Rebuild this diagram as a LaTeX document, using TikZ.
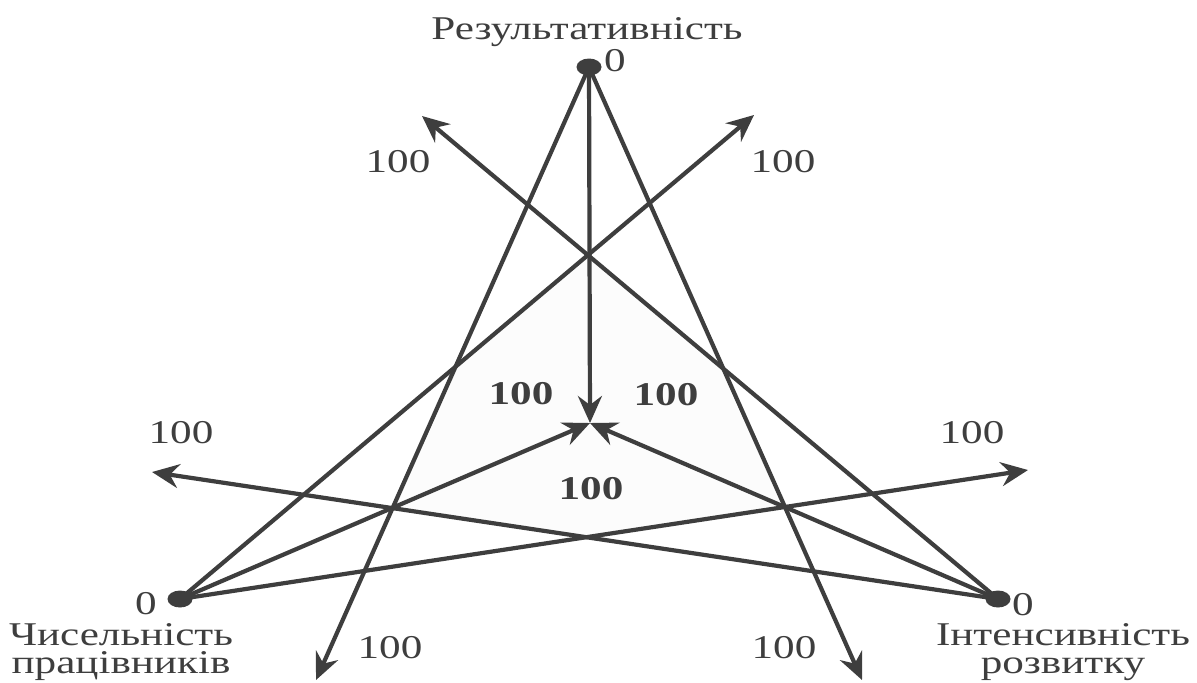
\documentclass[tikz,border=0pt]{standalone}
\usepackage{fontspec}
\setmainfont{Liberation Serif}[FakeStretch=1.3]
\usetikzlibrary{arrows.meta,shapes.geometric}
\definecolor{ink}{HTML}{3E3E3E}

\begin{document}
\begin{tikzpicture}[
    x=0.5pt, y=-0.5pt,
    font=\fontsize{16.6}{14}\selectfont,
    every node/.style={text=ink},
    dot/.style={ellipse, fill=ink, inner sep=0pt, minimum width=12.5pt, minimum height=8.5pt},
    num/.style={anchor=base, inner sep=0pt},
    bnum/.style={num, font=\fontsize{16.6}{14}\selectfont\bfseries},
    crit/.style={align=center, inner sep=0pt, anchor=base},
    arrow/.style={-{Stealth[length=13.5pt, width=12pt, inset=4.5pt]}, draw=ink, line width=2.1pt}
]
\useasboundingbox (0,0) rectangle (1197,682);

\coordinate (ctr) at (590,423);
\coordinate (tBL) at (316,680);
\coordinate (tBR) at (862,680);
\coordinate (lUR) at (754,115);
\coordinate (lR) at (1028,470);
\coordinate (rUL) at (422,116);
\coordinate (rL) at (152,472);

\node[dot] (res) at (589,67) {};
\node[dot] (staff) at (180,599) {};
\node[dot] (dev) at (998,599) {};

\fill[gray!2] (intersection of staff.center--lUR and dev.center--rUL)
    -- (intersection of staff.center--lUR and res.center--tBL)
    -- (intersection of res.center--tBL and dev.center--rL)
    -- (intersection of dev.center--rL and staff.center--lR)
    -- (intersection of staff.center--lR and res.center--tBR)
    -- (intersection of res.center--tBR and dev.center--rUL)
    -- cycle;

\draw[arrow] (res.center) -- (ctr);
\draw[arrow] (res.center) -- (tBL);
\draw[arrow] (res.center) -- (tBR);
\draw[arrow] (staff.center) -- (ctr);
\draw[arrow] (staff.center) -- (lUR);
\draw[arrow] (staff.center) -- (lR);
\draw[arrow] (dev.center) -- (ctr);
\draw[arrow] (dev.center) -- (rUL);
\draw[arrow] (dev.center) -- (rL);

\node[crit] (restitle) at (587,39) {Результативність};
\node[crit] (stafftitle) at (121,673) {Чисельність\\працівників};
\node[crit] (devtitle) at (1063,673) {Інтенсивність\\розвитку};

\node[num] (res0) at (615,71) {0};
\node[num] (staff0) at (146,614) {0};
\node[num] (dev0) at (1023,615) {0};

\node[num] (nTL) at (398,172) {100};
\node[num] (nTR) at (783,172) {100};
\node[num] (nL) at (181,443) {100};
\node[num] (nR) at (972,443) {100};
\node[num] (nBL) at (390,658) {100};
\node[num] (nBR) at (784,658) {100};

\node[bnum] (bL) at (521,404) {100};
\node[bnum] (bR) at (666,405) {100};
\node[bnum] (bB) at (591,499) {100};
\end{tikzpicture}
\end{document}
